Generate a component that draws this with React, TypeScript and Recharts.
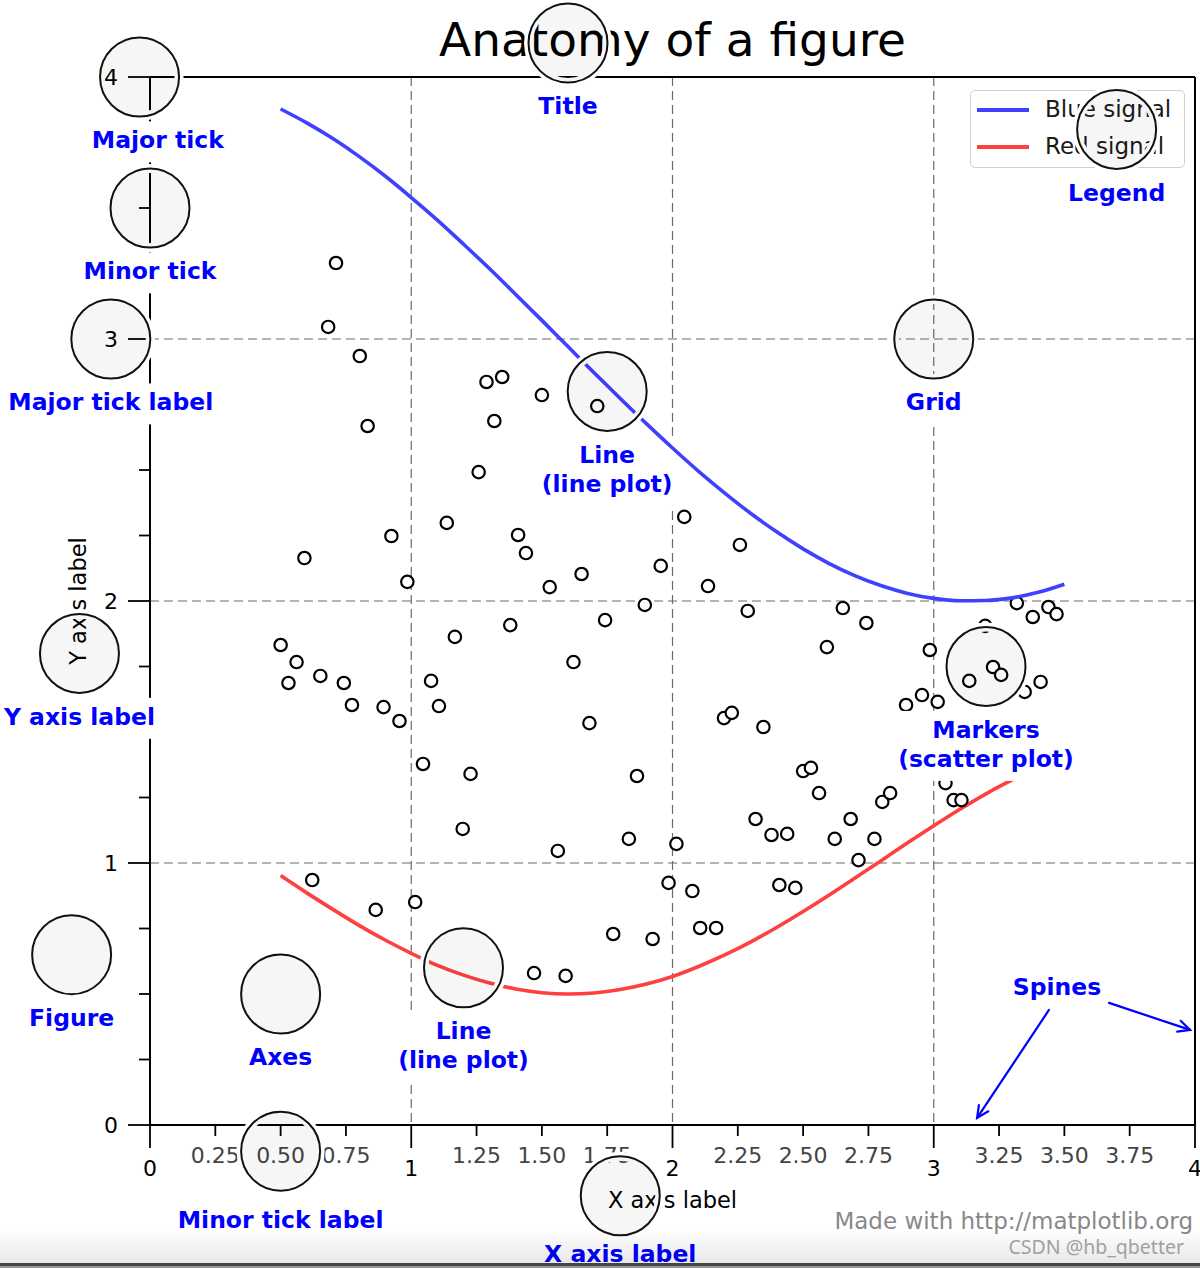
import React from "react";
import {
  ComposedChart,
  Line,
  Scatter,
  XAxis,
  YAxis,
  CartesianGrid,
  ReferenceDot,
  ReferenceLine,
  Legend,
  Label,
} from "recharts";

const FONT = '"DejaVu Sans", Verdana, sans-serif';

// ---------- axis ticks ----------
const xTicks = [0, 0.25, 0.5, 0.75, 1, 1.25, 1.5, 1.75, 2, 2.25, 2.5, 2.75, 3, 3.25, 3.5, 3.75, 4];
const xTickLabels = ["0", "0.25", "0.50", "0.75", "1", "1.25", "1.50", "1.75", "2", "2.25", "2.50", "2.75", "3", "3.25", "3.50", "3.75", "4"];
const yTicks = [0, 0.25, 0.5, 0.75, 1, 1.25, 1.5, 1.75, 2, 2.25, 2.5, 2.75, 3, 3.25, 3.5, 3.75, 4];
const yTickLabels = ["0", "", "", "", "1", "", "", "", "2", "", "", "", "3", "", "", "", "4"];
const majorTicks = [0, 1, 2, 3, 4];
const gridValues = [1, 2, 3];

// ---------- line series ----------
const seriesNames = ["Blue signal", "Red signal"];
const seriesColors = ["#4040ff", "#ff4040"];
const lineX = [0.5, 0.6, 0.7, 0.8, 0.9, 1.0, 1.1, 1.2, 1.3, 1.4, 1.5, 1.6, 1.7, 1.8, 1.9, 2.0, 2.1, 2.2, 2.3, 2.4, 2.5, 2.6, 2.7, 2.8, 2.9, 3.0, 3.1, 3.2, 3.3, 3.4, 3.5];
const blueY = [3.878, 3.825, 3.765, 3.697, 3.622, 3.54, 3.454, 3.362, 3.268, 3.17, 3.071, 2.971, 2.871, 2.773, 2.677, 2.584, 2.495, 2.412, 2.334, 2.263, 2.199, 2.143, 2.096, 2.058, 2.029, 2.01, 2.001, 2.002, 2.012, 2.033, 2.064];
const redY = [0.952, 0.886, 0.823, 0.762, 0.706, 0.655, 0.609, 0.572, 0.542, 0.519, 0.505, 0.5, 0.504, 0.517, 0.538, 0.567, 0.605, 0.649, 0.699, 0.755, 0.815, 0.878, 0.944, 1.01, 1.077, 1.142, 1.205, 1.264, 1.317, 1.366, 1.408];

// ---------- scatter markers ----------
const scatterX = [
  0.5, 0.53, 0.561, 0.591, 0.621, 0.652, 0.682, 0.712, 0.742, 0.773,
  0.803, 0.833, 0.864, 0.894, 0.924, 0.955, 0.985, 1.015, 1.045, 1.076,
  1.106, 1.136, 1.167, 1.197, 1.227, 1.258, 1.288, 1.318, 1.348, 1.379,
  1.409, 1.439, 1.47, 1.5, 1.53, 1.561, 1.591, 1.621, 1.652, 1.682,
  1.712, 1.742, 1.773, 1.803, 1.833, 1.864, 1.894, 1.924, 1.955, 1.985,
  2.015, 2.045, 2.076, 2.106, 2.136, 2.167, 2.197, 2.227, 2.258, 2.288,
  2.318, 2.348, 2.379, 2.409, 2.439, 2.47, 2.5, 2.53, 2.561, 2.591,
  2.621, 2.652, 2.682, 2.712, 2.742, 2.773, 2.803, 2.833, 2.864, 2.894,
  2.924, 2.955, 2.985, 3.015, 3.045, 3.076, 3.106, 3.136, 3.167, 3.197,
  3.227, 3.258, 3.288, 3.318, 3.348, 3.379, 3.409, 3.439, 3.47, 3.5,
];
const scatterY = [
  1.832, 1.687, 1.767, 2.164, 0.935, 1.714, 3.046, 3.29, 1.687, 1.603,
  2.935, 2.668, 0.821, 1.595, 2.248, 1.542, 2.073, 0.851, 1.378, 1.695,
  1.599, 2.298, 1.863, 1.13, 1.34, 2.492, 2.836, 2.687, 2.855, 1.908,
  2.252, 2.183, 0.58, 2.786, 2.053, 1.046, 0.569, 1.767, 2.103, 1.534,
  2.744, 1.927, 0.729, 2.5, 1.092, 1.332, 1.985, 0.71, 2.134, 0.924,
  1.073, 2.321, 0.893, 0.752, 2.057, 0.752, 1.553, 1.573, 2.214, 1.962,
  1.168, 1.519, 1.107, 0.916, 1.111, 0.905, 1.351, 1.363, 1.267, 1.824,
  1.092, 1.973, 1.168, 1.011, 1.916, 1.092, 1.233, 1.267, 1.45, 1.603,
  1.5, 1.641, 1.813, 1.615, 1.305, 1.24, 1.24, 1.695, 1.4, 1.905,
  1.748, 1.718, 1.55, 1.992, 1.653, 1.939, 1.691, 1.977, 1.95, 1.5,
];

// ---------- annotations ----------
const titleText = { x: 2.0, y: 4.08, text: "Anatomy of a figure" };
const circles = [
  { x: -0.04, y: 4.0 },
  { x: 0.0, y: 3.5 },
  { x: -0.15, y: 3.0 },
  { x: -0.27, y: 1.8 },
  { x: -0.3, y: 0.65 },
  { x: 0.5, y: 0.5 },
  { x: 0.5, y: -0.1 },
  { x: 1.8, y: -0.27 },
  { x: 1.6, y: 4.13 },
  { x: 1.75, y: 2.8 },
  { x: 1.2, y: 0.6 },
  { x: 3.0, y: 3.0 },
  { x: 3.2, y: 1.75 },
  { x: 3.7, y: 3.8 },
];
const labels = [
  { x: 0.03, y: 3.8, text: "Major tick" },
  { x: 0.0, y: 3.3, text: "Minor tick" },
  { x: -0.15, y: 2.8, text: "Major tick label" },
  { x: -0.27, y: 1.6, text: "Y axis label" },
  { x: -0.3, y: 0.45, text: "Figure" },
  { x: 0.5, y: 0.3, text: "Axes" },
  { x: 0.5, y: -0.32, text: "Minor tick label" },
  { x: 1.8, y: -0.45, text: "X axis label" },
  { x: 1.6, y: 3.93, text: "Title" },
  { x: 1.75, y: 2.6, text: "Line\n(line plot)" },
  { x: 1.2, y: 0.4, text: "Line\n(line plot)" },
  { x: 3.0, y: 2.8, text: "Grid" },
  { x: 3.2, y: 1.55, text: "Markers\n(scatter plot)" },
  { x: 3.7, y: 3.6, text: "Legend" },
];
const spinesLabel = { x: 3.472, y: 0.569, text: "Spines" };
const spineArrows = [
  { x1: 3.441, y1: 0.439, x2: 3.166, y2: 0.027 },
  { x1: 3.671, y1: 0.466, x2: 3.981, y2: 0.363 },
];

// ---------- built tables ----------
const blueData = lineX.map((x, i) => ({ x, y: blueY[i] }));
const redData = lineX.map((x, i) => ({ x, y: redY[i] }));
const scatterData = scatterX.map((x, i) => ({ x, y: scatterY[i] }));

// ---------- helpers ----------
let measureCtx: any = null;
function textWidth(s: string, font: string, fallback: number) {
  try {
    if (!measureCtx && typeof document !== "undefined") {
      measureCtx = document.createElement("canvas").getContext("2d");
    }
    if (measureCtx) {
      measureCtx.font = font;
      return measureCtx.measureText(s).width;
    }
  } catch (e) {}
  return s.length * fallback;
}

const renderXTick = (props: any) => {
  const { x, y, payload } = props;
  const v = payload.value;
  const major = majorTicks.indexOf(v) >= 0;
  const label = xTickLabels[xTicks.indexOf(v)];
  return (
    <g>
      <line x1={x} x2={x} y1={y} y2={y + (major ? 23 : 11)} stroke="#000" strokeWidth={1.8} />
      <text
        x={x}
        y={y + (major ? 51 : 38)}
        textAnchor="middle"
        fontSize={22}
        fontFamily={FONT}
        fill={major ? "#000" : "#444"}
      >
        {label}
      </text>
    </g>
  );
};

const renderYTick = (props: any) => {
  const { x, y, payload } = props;
  const v = payload.value;
  const major = majorTicks.indexOf(v) >= 0;
  const label = yTickLabels[yTicks.indexOf(v)];
  return (
    <g>
      <line x1={x - (major ? 22 : 11)} x2={x} y1={y} y2={y} stroke="#000" strokeWidth={1.8} />
      {label ? (
        <text x={x - 32} y={y + 8} textAnchor="end" fontSize={22} fontFamily={FONT} fill="#000">
          {label}
        </text>
      ) : null}
    </g>
  );
};

const makeLabelShape = (text: string, withBox: boolean) => {
  const lines = text.split("\n");
  return (props: any) => {
    const { cx, cy } = props;
    if (cx == null || cy == null) return <g />;
    const fs = 23.5;
    const lh = 29;
    const pad = 8;
    const font = `bold ${fs}px "DejaVu Sans"`;
    const w = Math.max(...lines.map((l) => textWidth(l, font, 14)));
    const h = (lines.length - 1) * lh + 25;
    return (
      <g>
        {withBox ? (
          <rect x={cx - w / 2 - pad} y={cy - pad} width={w + 2 * pad} height={h + 2 * pad} fill="#ffffff" />
        ) : null}
        <text textAnchor="middle" fontFamily={FONT} fontWeight="bold" fontSize={fs} fill="#0000ff">
          {lines.map((l, i) => (
            <tspan key={i} x={cx} y={cy + 19 + i * lh}>
              {l}
            </tspan>
          ))}
        </text>
      </g>
    );
  };
};

const renderTitle = (props: any) => {
  const { cx, cy } = props;
  if (cx == null || cy == null) return <g />;
  return (
    <text x={cx} y={cy} textAnchor="middle" fontFamily={FONT} fontSize={47} fill="#000">
      {titleText.text}
    </text>
  );
};

const renderCircle = (props: any) => {
  const { cx, cy } = props;
  if (cx == null || cy == null) return <g />;
  return (
    <g>
      <circle cx={cx} cy={cy} r={39.5} fill="none" stroke="#ffffff" strokeWidth={9} />
      <circle cx={cx} cy={cy} r={39.5} fill="rgba(0,0,0,0.035)" stroke="#111" strokeWidth={2} />
    </g>
  );
};

const renderArrow = (props: any) => {
  const { x1, y1, x2, y2 } = props;
  if ([x1, y1, x2, y2].some((v) => v == null || isNaN(v))) return <g />;
  const ang = Math.atan2(y2 - y1, x2 - x1);
  const len = 13;
  const spread = 0.45;
  const ax = x2 - len * Math.cos(ang - spread);
  const ay = y2 - len * Math.sin(ang - spread);
  const bx = x2 - len * Math.cos(ang + spread);
  const by = y2 - len * Math.sin(ang + spread);
  return (
    <g stroke="#0000ff" strokeWidth={2.2} fill="none" strokeLinecap="round">
      <line x1={x1} y1={y1} x2={x2} y2={y2} />
      <polyline points={`${ax},${ay} ${x2},${y2} ${bx},${by}`} />
    </g>
  );
};

const renderMarker = (props: any) => {
  const { cx, cy } = props;
  if (cx == null || cy == null) return <g />;
  return <circle cx={cx} cy={cy} r={6.2} fill="#ffffff" stroke="#000" strokeWidth={2.2} />;
};

const renderLegend = (props: any) => {
  const payload = (props && props.payload ? props.payload : []).filter((p: any) => seriesNames.indexOf(p.value) >= 0);
  payload.sort((a: any, b: any) => seriesNames.indexOf(a.value) - seriesNames.indexOf(b.value));
  return (
    <div
      style={{
        width: "100%",
        height: "100%",
        boxSizing: "border-box",
        border: "1.5px solid #d0d0d0",
        borderRadius: 5,
        background: "rgba(255,255,255,0.9)",
        paddingTop: 0,
        fontFamily: FONT,
      }}
    >
      {payload.map((p: any) => (
        <div key={p.value} style={{ display: "flex", alignItems: "center", height: 37, paddingLeft: 6 }}>
          <div style={{ width: 52, height: 4, background: p.color }} />
          <span style={{ marginLeft: 16, fontSize: 23, color: "#1a1a1a", lineHeight: "37px", whiteSpace: "nowrap" }}>
            {p.value}
          </span>
        </div>
      ))}
    </div>
  );
};

const YLabelContent = (props: any) => {
  const vb = props.viewBox || { x: 0, y: 77, width: 150, height: 1048 };
  const bx = vb.x + 86;
  const cy = vb.y + vb.height / 2;
  return (
    <text
      x={bx}
      y={cy}
      transform={`rotate(-90, ${bx}, ${cy})`}
      textAnchor="middle"
      fontFamily={FONT}
      fontSize={22.5}
      fill="#000"
    >
      Y axis label
    </text>
  );
};

const XLabelContent = (props: any) => {
  const vb = props.viewBox || { x: 150, y: 1125, width: 1045, height: 143 };
  return (
    <text x={vb.x + vb.width / 2} y={vb.y + 83} textAnchor="middle" fontFamily={FONT} fontSize={22.5} fill="#000">
      X axis label
    </text>
  );
};

export default function App() {
  return (
    <div style={{ position: "relative", width: 1200, height: 1268 }}>
      <style>{`body{margin:0;}`}</style>
      <ComposedChart
        width={1200}
        height={1268}
        margin={{ top: 77, right: 5, bottom: 0, left: 0 }}
        style={{ fontFamily: FONT }}
      >
        <CartesianGrid
          stroke="#6a6a6a"
          strokeWidth={1.2}
          strokeDasharray="9 5"
          horizontalValues={gridValues}
          verticalValues={gridValues}
        />
        <XAxis
          dataKey="x"
          type="number"
          domain={[0, 4]}
          ticks={xTicks}
          interval={0}
          tick={renderXTick}
          tickLine={false}
          tickSize={0}
          tickMargin={0}
          axisLine={{ stroke: "#000", strokeWidth: 2 }}
          height={143}
          allowDataOverflow
        >
          <Label content={XLabelContent} />
        </XAxis>
        <YAxis
          dataKey="y"
          type="number"
          domain={[0, 4]}
          ticks={yTicks}
          interval={0}
          tick={renderYTick}
          tickLine={false}
          tickSize={0}
          tickMargin={0}
          axisLine={{ stroke: "#000", strokeWidth: 2 }}
          width={150}
          allowDataOverflow
        >
          <Label content={YLabelContent} />
        </YAxis>

        <Line
          data={redData}
          dataKey="y"
          name={seriesNames[1]}
          type="monotone"
          stroke={seriesColors[1]}
          strokeWidth={3.6}
          dot={false}
          activeDot={false}
          legendType="plainline"
          isAnimationActive={false}
        />
        <Scatter
          data={scatterData}
          dataKey="y"
          name="markers"
          shape={renderMarker}
          legendType="none"
          isAnimationActive={false}
        />
        <Line
          data={blueData}
          dataKey="y"
          name={seriesNames[0]}
          type="monotone"
          stroke={seriesColors[0]}
          strokeWidth={3.6}
          dot={false}
          activeDot={false}
          legendType="plainline"
          isAnimationActive={false}
          zIndex={2550}
        />

        <ReferenceLine y={4} stroke="#000" strokeWidth={2} ifOverflow="visible" zIndex={550} />
        <ReferenceLine x={4} stroke="#000" strokeWidth={2} ifOverflow="visible" zIndex={550} />

        <ReferenceDot
          x={titleText.x}
          y={titleText.y}
          r={0}
          ifOverflow="visible"
          shape={renderTitle}
          zIndex={2400}
        />
        {labels.map((l, i) => (
          <ReferenceDot
            key={"lab" + i}
            x={l.x}
            y={l.y}
            r={0}
            ifOverflow="visible"
            shape={makeLabelShape(l.text, true)}
            zIndex={2500}
          />
        ))}
        <ReferenceDot
          x={spinesLabel.x}
          y={spinesLabel.y}
          r={0}
          ifOverflow="visible"
          shape={makeLabelShape(spinesLabel.text, false)}
          zIndex={2500}
        />
        {spineArrows.map((a, i) => (
          <ReferenceLine
            key={"arr" + i}
            segment={[
              { x: a.x1, y: a.y1 },
              { x: a.x2, y: a.y2 },
            ]}
            ifOverflow="visible"
            shape={renderArrow}
            zIndex={2500}
          />
        ))}
        {circles.map((c, i) => (
          <ReferenceDot
            key={"c" + i}
            x={c.x}
            y={c.y}
            r={39.5}
            ifOverflow="visible"
            shape={renderCircle}
            zIndex={2600}
          />
        ))}

        <Legend
          layout="horizontal"
          verticalAlign="middle"
          align="center"
          content={renderLegend}
          wrapperStyle={{ position: "absolute", left: 970, top: 90, width: 215, height: 78, zIndex: -1 }}
        />
      </ComposedChart>

      <div
        style={{
          position: "absolute",
          right: 7,
          top: 1210,
          fontFamily: FONT,
          fontSize: 23,
          lineHeight: "23px",
          color: "#888",
          whiteSpace: "nowrap",
        }}
      >
        Made with http://matplotlib.org
      </div>
      <div
        style={{
          position: "absolute",
          left: 0,
          top: 1228,
          width: 1200,
          height: 35,
          background: "linear-gradient(rgba(0,0,0,0), rgba(0,0,0,0.09))",
          pointerEvents: "none",
        }}
      />
      <div
        style={{
          position: "absolute",
          right: 16,
          top: 1235,
          fontFamily: '"Noto Sans", sans-serif',
          fontSize: 19.5,
          lineHeight: "24px",
          color: "#a0a0a0",
          whiteSpace: "nowrap",
        }}
      >
        CSDN @hb_qbetter
      </div>
      <div style={{ position: "absolute", left: 0, top: 1263, width: 1200, height: 3, background: "#444" }} />
      <div style={{ position: "absolute", left: 0, top: 1266, width: 1200, height: 2, background: "#999" }} />
    </div>
  );
}
